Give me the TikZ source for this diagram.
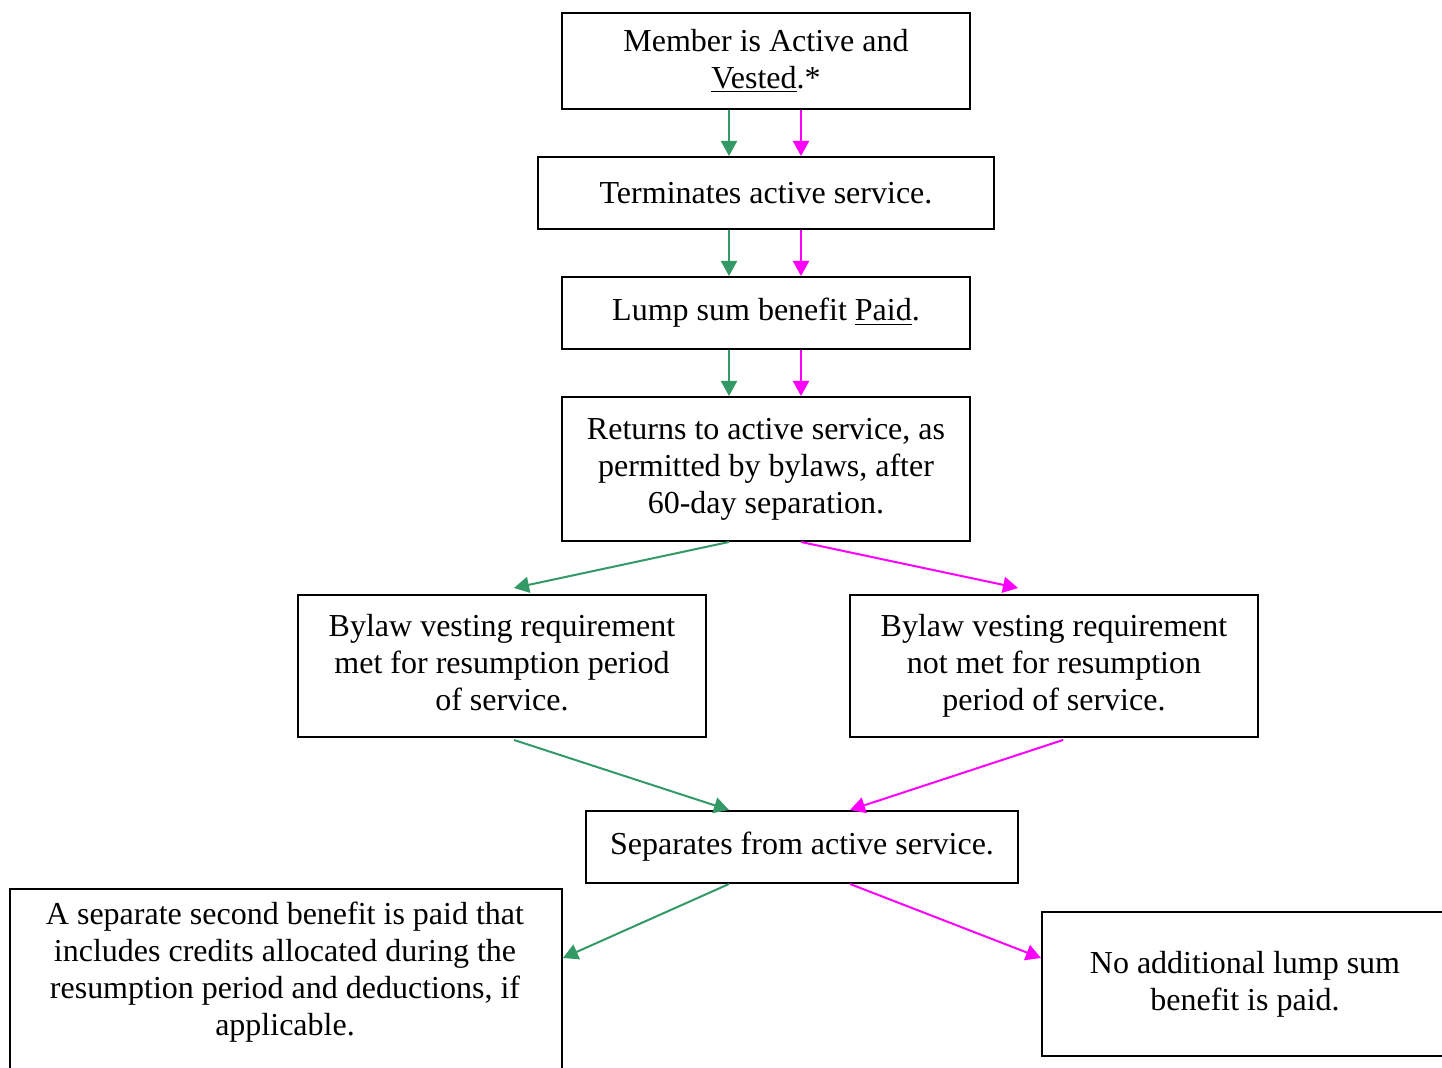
\documentclass[tikz,border=0pt]{standalone}
\usepackage{fontspec}
\setmainfont{Liberation Serif}
\usetikzlibrary{arrows.meta,calc}
\definecolor{pgreen}{RGB}{51,153,102}
\definecolor{pmag}{RGB}{255,0,255}
\begin{document}
\begin{tikzpicture}[x=0.5pt,y=-0.5pt,
  box/.style={draw=black,line width=1pt,inner sep=0pt,align=center,anchor=north west,
    font=\fontsize{16pt}{18.5pt}\selectfont},
  txt/.style={inner sep=0pt,align=center,font=\fontsize{16pt}{18.5pt}\selectfont},
  garr/.style={draw=pgreen,line width=1pt,-{Triangle[length=7.5pt,width=8pt]}},
  marr/.style={draw=pmag,line width=1pt,-{Triangle[length=7.5pt,width=8pt]}}]
\useasboundingbox (0,0) rectangle (1442,1068);
\clip (0,0) rectangle (1442,1068);
\coordinate (gx) at (729,0);
\coordinate (mx) at (801,0);
\node[box,minimum width=204pt,minimum height=48pt] (b1) at (561,12)
  {Member is Active and\\\underline{Vested}.*};
\node[box,minimum width=228pt,minimum height=36pt] (b2) at (537,156)
  {Terminates active service.};
\node[box,minimum width=204pt,minimum height=36pt] (b3) at (561,276)
  {Lump sum benefit \underline{Paid}.};
\node[box,minimum width=204pt,minimum height=72pt] (b4) at (561,396)
  {Returns to active service, as\\permitted by bylaws, after\\60-day separation.};
\node[box,minimum width=204pt,minimum height=71pt] (b5) at (297,594)
  {Bylaw vesting requirement\\met for resumption period\\of service.\vphantom{y}};
\node[box,minimum width=204pt,minimum height=71pt] (b6) at (849,594)
  {Bylaw vesting requirement\\not met for resumption\\period of service.\vphantom{y}};
\node[box,minimum width=216pt,minimum height=36pt] (b7) at (585,810)
  {Separates from active service.};
\node[box,minimum width=276pt,minimum height=110pt] (b8) at (9,888) {};
\node[txt] (t8) at (285,972)
  {A separate second benefit is paid that\\includes credits allocated during the\\resumption period and deductions, if\\applicable.};
\node[box,minimum width=203pt,minimum height=72pt] (b9) at (1041,911)
  {No additional lump sum\\benefit is paid.};
% vertical arrows
\draw[garr] (b1.south -| gx) -- (b2.north -| gx);
\draw[marr] (b1.south -| mx) -- (b2.north -| mx);
\draw[garr] (b2.south -| gx) -- (b3.north -| gx);
\draw[marr] (b2.south -| mx) -- (b3.north -| mx);
\draw[garr] (b3.south -| gx) -- (b4.north -| gx);
\draw[marr] (b3.south -| mx) -- (b4.north -| mx);
% diagonal arrows
\draw[garr] (b4.south -| gx) -- ($(b5.north)+(12,-6)$);
\draw[marr] (b4.south -| mx) -- ($(b6.north)+(-36,-6)$);
\draw[garr] ($(b5.south)+(12,2)$) -- (b7.north -| gx);
\draw[marr] ($(b6.south)+(9,2)$) -- ($(b7.north)+(48,0)$);
\draw[garr] (b7.south -| gx) -- ($(b8.north east)+(0,70)$);
\draw[marr] ($(b7.south)+(48,0)$) -- ($(b9.north west)+(0,47)$);
\end{tikzpicture}
\end{document}
